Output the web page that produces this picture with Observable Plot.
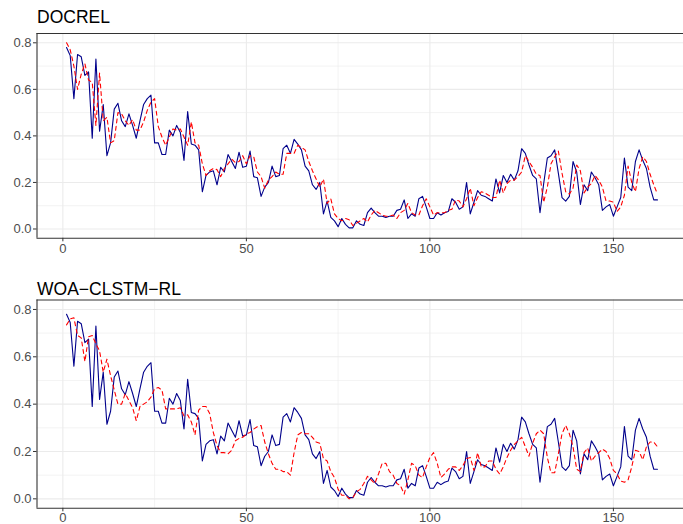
<!DOCTYPE html>
<html>
<head>
<meta charset="utf-8">
<script src="https://cdn.jsdelivr.net/npm/d3@7"></script>
<script src="https://cdn.jsdelivr.net/npm/@observablehq/plot@0.6"></script>
<style>
  body { margin: 0; background: #fff; font-family: "Liberation Sans", Arial, sans-serif; }
  #wrap { position: relative; width: 683px; height: 524px; overflow: hidden; background: #fff; }
  .panel { position: absolute; left: 0; }
  .panel svg { background: transparent; }
  .title { position: absolute; left: 37px; font-size: 17.5px; line-height: 17.5px; color: #000; z-index: 2; white-space: nowrap; }
</style>
</head>
<body>
<div id="wrap">
  <div class="panel" id="p1" style="top:0px"></div>
  <div class="panel" id="p2" style="top:262px"></div>
  <div class="title" id="t1" style="top:9px"></div>
  <div class="title" id="t2" style="top:281px"></div>
</div>
<script>
// ---- data ----
const panelTitles = ["DOCREL", "WOA\u2212CLSTM\u2212RL"];
const xTicks = [0, 50, 100, 150];
const xMinorTicks = [25, 75, 125];
const yTicks = [0, 0.2, 0.4, 0.6, 0.8];
const yMinorTicks = [0.1, 0.3, 0.5, 0.7];

const actual = [
  0.78,0.745,0.56,0.75,0.74,0.66,0.675,0.39,0.73,0.42,
  0.535,0.315,0.37,0.515,0.54,0.465,0.44,0.495,0.445,0.39,
  0.465,0.535,0.56,0.575,0.37,0.37,0.32,0.32,0.425,0.40,
  0.445,0.415,0.295,0.505,0.365,0.36,0.34,0.16,0.23,0.245,
  0.25,0.19,0.265,0.245,0.32,0.29,0.26,0.33,0.265,0.27,
  0.335,0.225,0.22,0.14,0.18,0.20,0.27,0.225,0.23,0.345,
  0.36,0.325,0.385,0.365,0.34,0.27,0.25,0.19,0.17,0.20,
  0.065,0.12,0.05,0.035,0.01,0.045,0.02,0.005,0.005,0.035,
  0.02,0.015,0.07,0.09,0.07,0.055,0.055,0.05,0.055,0.055,
  0.08,0.085,0.125,0.045,0.065,0.055,0.13,0.14,0.095,0.045,
  0.045,0.07,0.06,0.07,0.075,0.13,0.115,0.085,0.095,0.20,
  0.065,0.115,0.165,0.145,0.14,0.13,0.12,0.215,0.155,0.23,
  0.20,0.235,0.21,0.25,0.345,0.325,0.275,0.23,0.215,0.07,
  0.195,0.305,0.315,0.34,0.24,0.135,0.12,0.14,0.29,0.245,
  0.105,0.19,0.165,0.245,0.22,0.19,0.08,0.095,0.105,0.055,
  0.095,0.135,0.305,0.18,0.165,0.29,0.34,0.295,0.26,0.18,
  0.125,0.125
];

const predDOCREL = [
  0.80,0.77,0.70,0.60,0.665,0.71,0.64,0.63,0.445,0.67,
  0.465,0.48,0.37,0.38,0.50,0.495,0.465,0.445,0.47,0.425,
  0.425,0.46,0.51,0.545,0.56,0.44,0.395,0.36,0.395,0.43,
  0.425,0.43,0.395,0.36,0.46,0.37,0.36,0.28,0.23,0.25,
  0.26,0.255,0.225,0.26,0.28,0.30,0.285,0.29,0.315,0.28,
  0.315,0.31,0.245,0.225,0.175,0.21,0.225,0.245,0.235,0.235,
  0.325,0.325,0.325,0.36,0.35,0.34,0.29,0.25,0.215,0.18,
  0.215,0.11,0.13,0.065,0.045,0.035,0.045,0.04,0.015,0.025,
  0.035,0.045,0.03,0.06,0.08,0.07,0.06,0.055,0.055,0.06,
  0.045,0.07,0.08,0.11,0.07,0.06,0.06,0.10,0.13,0.095,
  0.06,0.07,0.07,0.07,0.08,0.085,0.125,0.12,0.095,0.13,
  0.175,0.10,0.135,0.16,0.155,0.145,0.135,0.135,0.21,0.155,
  0.195,0.21,0.21,0.225,0.245,0.315,0.29,0.265,0.235,0.23,
  0.115,0.18,0.28,0.31,0.335,0.24,0.16,0.15,0.175,0.275,
  0.25,0.155,0.18,0.195,0.23,0.21,0.18,0.12,0.12,0.115,
  0.075,0.095,0.145,0.27,0.20,0.16,0.26,0.31,0.29,0.235,
  0.19,0.15
];

const predWOA = [
  0.735,0.76,0.765,0.69,0.68,0.58,0.685,0.69,0.655,0.625,
  0.535,0.59,0.52,0.46,0.40,0.40,0.445,0.415,0.385,0.33,
  0.39,0.40,0.41,0.43,0.465,0.47,0.46,0.38,0.38,0.38,
  0.38,0.385,0.35,0.355,0.325,0.27,0.375,0.39,0.39,0.36,
  0.28,0.225,0.195,0.195,0.19,0.205,0.245,0.255,0.26,0.275,
  0.28,0.295,0.305,0.31,0.24,0.19,0.15,0.125,0.125,0.115,
  0.115,0.10,0.195,0.27,0.28,0.275,0.275,0.26,0.24,0.235,
  0.17,0.16,0.115,0.09,0.04,0.015,0.015,0.0,0.005,0.03,
  0.04,0.065,0.095,0.08,0.065,0.105,0.15,0.15,0.115,0.10,
  0.065,0.055,0.02,0.08,0.15,0.14,0.10,0.09,0.135,0.175,
  0.195,0.15,0.09,0.105,0.125,0.135,0.135,0.12,0.14,0.17,
  0.175,0.12,0.195,0.135,0.135,0.16,0.16,0.125,0.105,0.135,
  0.175,0.205,0.23,0.245,0.26,0.22,0.18,0.235,0.275,0.29,
  0.275,0.175,0.11,0.11,0.19,0.275,0.31,0.275,0.22,0.125,
  0.115,0.195,0.215,0.16,0.18,0.195,0.21,0.20,0.17,0.12,
  0.105,0.075,0.07,0.08,0.135,0.205,0.20,0.165,0.22,0.24,
  0.24,0.22
];

// ---- drawing ----
const xDomain = [-7.05, 169.1];
const yDomain = [-0.04, 0.84];

function panel(pred, height, marginTop, marginBottom, xPad) {
  const obs = actual.map((v, i) => ({t: i + 1, v}));
  const prd = pred.map((v, i) => ({t: i + 1, v}));
  return Plot.plot({
    width: 683,
    height,
    marginLeft: 36.5,
    marginRight: 0,
    marginTop,
    marginBottom,
    style: {fontFamily: "'Liberation Sans', Arial, sans-serif", fontSize: "13px", background: "transparent"},
    x: {domain: xDomain, axis: null},
    y: {domain: yDomain, axis: null},
    marks: [
      Plot.ruleY(yMinorTicks, {stroke: "#ebebeb", strokeWidth: 0.6}),
      Plot.ruleY(yTicks, {stroke: "#ebebeb", strokeWidth: 1.1}),
      Plot.ruleX(xMinorTicks, {stroke: "#ebebeb", strokeWidth: 0.6}),
      Plot.ruleX(xTicks, {stroke: "#ebebeb", strokeWidth: 1.1}),
      Plot.line(obs, {x: "t", y: "v", stroke: "#00008b", strokeWidth: 1.1}),
      Plot.line(prd, {x: "t", y: "v", stroke: "#ff0000", strokeWidth: 1.1, strokeDasharray: "4,3.5"}),
      Plot.ruleY([yDomain[0], yDomain[1]], {stroke: "#333333", strokeWidth: 1.1}),
      Plot.ruleX([xDomain[0]], {stroke: "#333333", strokeWidth: 1.1}),
      Plot.axisY({ticks: yTicks, tickFormat: d3.format(".1f"), tickSize: 3.5, tickPadding: 2, stroke: "#333333", fill: "#4d4d4d", fontSize: 13, label: null}),
      Plot.axisX({ticks: xTicks, tickFormat: d3.format("d"), tickSize: 3.5, tickPadding: xPad, stroke: "#333333", fill: "#4d4d4d", fontSize: 13, label: null})
    ]
  });
}

document.getElementById("p1").appendChild(panel(predDOCREL, 262, 33, 262 - 237.8, 2));
document.getElementById("p2").appendChild(panel(predWOA, 262, 299.5 - 262, 524 - 507.8, 1));
document.getElementById("t1").textContent = panelTitles[0];
document.getElementById("t2").textContent = panelTitles[1];
</script>
</body>
</html>
